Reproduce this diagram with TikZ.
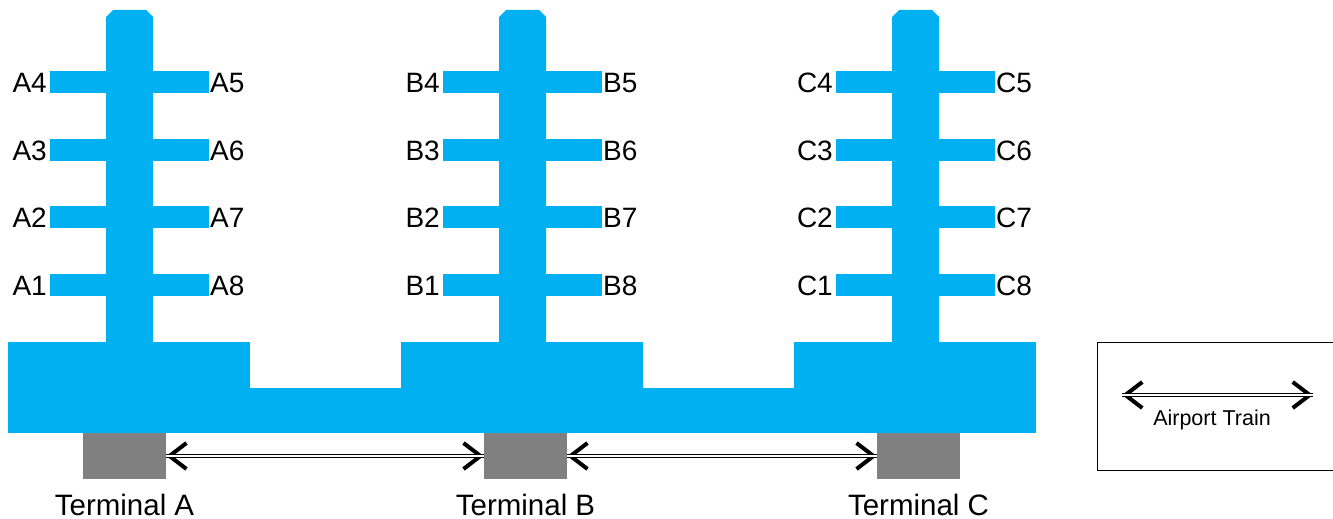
\documentclass[tikz,border=0pt]{standalone}
\usepackage{fontspec}
\setmainfont{Liberation Sans}
\usepackage{tikz}
\usetikzlibrary{arrows.meta, positioning}
\definecolor{concourse}{HTML}{00B0F0}
\definecolor{station}{HTML}{808080}
\tikzstyle{hall} = [fill=concourse, draw=none]
\tikzstyle{gate} = [inner sep=0pt, font=\fontsize{28}{30}\selectfont]
\tikzstyle{terminal} = [rectangle, fill=station, draw=none, minimum width=83pt, minimum height=46pt, inner sep=0pt]
\tikzstyle{termlabel} = [inner sep=0pt, font=\fontsize{29.5}{32}\selectfont]
\tikzstyle{train} = [double=white, double distance=1.8pt, line width=1.1pt, preaction={draw, line width=4pt, {Straight Barb[length=17pt, width=26pt, line width=4pt]}-{Straight Barb[length=17pt, width=26pt, line width=4pt]}}]

\begin{document}
\begin{tikzpicture}[x=1pt, y=-1pt]
\useasboundingbox (0,0) rectangle (1333,519);

% Connecting corridors
\fill[hall] (249,388) rectangle (402,433);
\fill[hall] (642,388) rectangle (795,433);

% Concourses with gates
\foreach \t/\dx in {A/0, B/393, C/786} {
  \fill[hall] (8+\dx,342) rectangle (250+\dx,433);
  \fill[hall] (106+\dx,343) -- (106+\dx,17) -- (113+\dx,10) -- (146+\dx,10) -- (153+\dx,17) -- (153+\dx,343) -- cycle;
  \foreach \top/\l/\r in {71/4/5, 139/3/6, 206/2/7, 274/1/8} {
    \fill[hall] (50+\dx,\top) rectangle (107+\dx,\top+22);
    \fill[hall] (152+\dx,\top) rectangle (209+\dx,\top+22);
    \node (gate\t\l) [gate, anchor=east] at (47+\dx,\top+12) {\t\l};
    \node (gate\t\r) [gate, anchor=west] at (210+\dx,\top+12) {\t\r};
  }
}

% Terminal stations
\foreach \t/\cx in {A/124.5, B/525.5, C/918.5} {
  \node (term\t) [terminal] at (\cx,456) {};
  \node (label\t) [termlabel, below=14.5pt of term\t] {Terminal \t};
}

% Train links between terminals
\draw [train] (termA.east) -- (termB.west);
\draw [train] (termB.east) -- (termC.west);

% Legend
\node (legend) [draw, line width=0.8pt, rectangle, minimum width=240pt, minimum height=128pt, anchor=north west] at (1097,342) {};
\coordinate (legleft) at (1122,395);
\coordinate (legright) at (1313,395);
\draw [train] (legleft) -- (legright);
\node (legtext) [inner sep=0pt, anchor=base, font=\fontsize{21.5}{24}\selectfont] at (1212,425) {Airport Train};

\end{tikzpicture}
\end{document}
